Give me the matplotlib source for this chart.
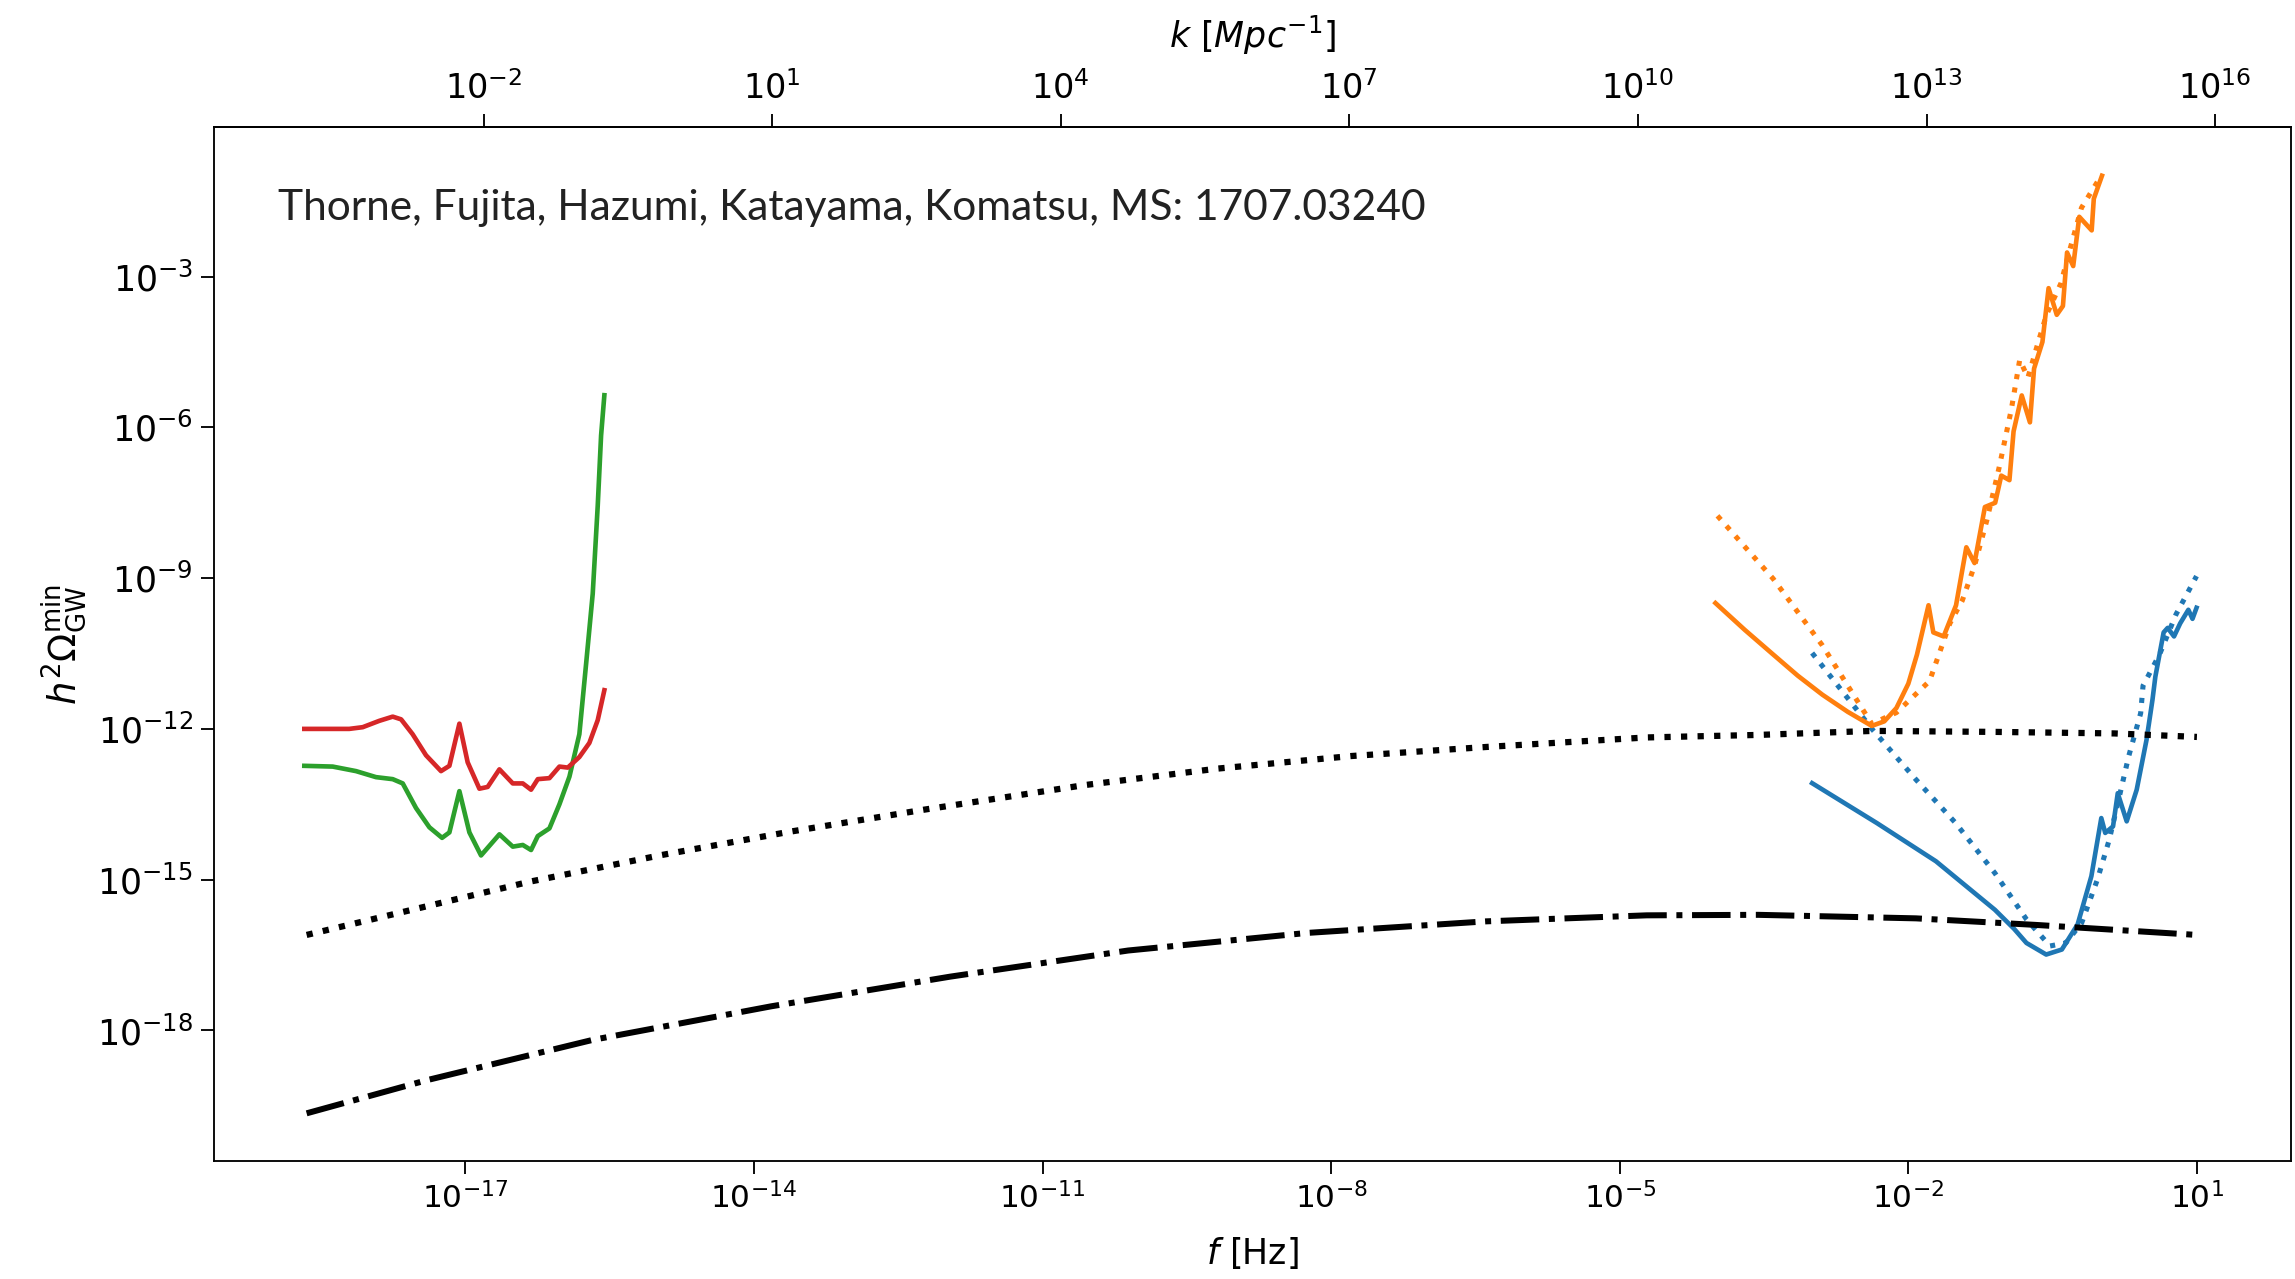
import matplotlib.pyplot as plt
import numpy as np
from matplotlib.ticker import NullLocator

# every value below is a log10
# x: log10(f / Hz), y: log10(h^2 Omega_GW^min)

red_lf = [-18.674, -18.207, -18.067, -17.895, -17.755, -17.668, -17.548, -17.409, -17.253, -17.166,
          -17.062, -16.976, -16.854, -16.768, -16.646, -16.507, -16.403, -16.317, -16.247, -16.126,
          -16.022, -15.935, -15.815, -15.711, -15.624, -15.555]
red_ly = [-12.00, -12.00, -11.966, -11.84, -11.756, -11.81, -12.106, -12.525, -12.84, -12.735,
          -11.896, -12.665, -13.19, -13.155, -12.805, -13.085, -13.085, -13.21, -13.0, -12.98,
          -12.75, -12.77, -12.56, -12.28, -11.826, -11.23]

green_lf = [-18.674, -18.379, -18.137, -17.929, -17.755, -17.651, -17.513, -17.374, -17.242, -17.166,
            -17.062, -16.958, -16.837, -16.646, -16.507, -16.403, -16.317, -16.247, -16.126, -16.022,
            -15.918, -15.815, -15.745, -15.676, -15.624, -15.589, -15.555]
green_ly = [-12.735, -12.75, -12.84, -12.96, -13.0, -13.085, -13.574, -13.958, -14.168, -14.06,
            -13.239, -14.06, -14.518, -14.098, -14.343, -14.31, -14.41, -14.133, -13.98, -13.50,
            -12.95, -12.106, -10.71, -9.31, -7.56, -6.16, -5.36]

orange_lf = [-4.005, -3.7, -3.406, -3.15, -2.893, -2.63, -2.38, -2.25, -2.124, -2.0, -1.91, -1.79,
             -1.74, -1.633, -1.504, -1.397, -1.312, -1.204, -1.097, -1.034, -0.949, -0.906, -0.821,
             -0.736, -0.693, -0.606, -0.542, -0.457, -0.393, -0.35, -0.286, -0.223, -0.094, -0.072,
             0.013]
orange_ly = [-9.496, -10.03, -10.518, -10.94, -11.32, -11.66, -11.94, -11.85, -11.585, -11.1, -10.52,
             -9.54, -10.08, -10.16, -9.54, -8.386, -8.70, -7.585, -7.50, -6.96, -7.05, -6.08, -5.365,
             -5.90, -4.83, -4.30, -3.23, -3.76, -3.585, -2.52, -2.79, -1.81, -2.08, -1.45, -0.993]

orange_dot_lf = [-3.984, -3.406, -2.893, -2.38, -2.124, -1.78, -1.568, -1.44, -1.31, -1.184,
                 -1.055, -0.928, -0.842, -0.757, -0.649, -0.564, -0.415, -0.329, -0.2, -0.03]
orange_dot_ly = [-7.76, -9.01, -10.34, -11.90, -11.675, -11.05, -9.90, -9.45, -8.74, -7.85,
                 -6.79, -5.63, -4.655, -5.01, -4.30, -3.76, -3.14, -2.52, -1.63, -1.10]

blue_lf = [-3.0, -2.327, -1.713, -1.10, -0.9, -0.772, -0.567, -0.404, -0.24, -0.097, 0.006,
           0.047, 0.128, 0.177, 0.27, 0.374, 0.476, 0.538, 0.568, 0.654, 0.696,
           0.762, 0.826, 0.911, 0.954, 0.996]
blue_ly = [-13.08, -13.874, -14.634, -15.60, -15.98, -16.26, -16.49, -16.39, -15.89, -14.93, -13.775,
           -14.07, -13.94, -13.28, -13.84, -13.21, -12.22, -11.42, -10.96, -10.08, -9.99,
           -10.16, -9.90, -9.63, -9.81, -9.59]

blue_dot_lf = [-3.0, -2.37, -1.92, -1.51, -1.10, -0.772, -0.527, -0.363, -0.198, -0.035,
               0.088, 0.17, 0.29, 0.415, 0.44, 0.611, 0.783, 0.996]
blue_dot_ly = [-10.49, -12.02, -13.01, -13.87, -14.87, -15.79, -16.32, -16.26, -15.86, -15.0,
               -14.21, -13.54, -12.55, -11.69, -11.14, -10.52, -9.72, -8.96]

black_dot_lf = [-18.65, -16.33, -14.96, -13.64, -12.24, -10.57, -9.18, -7.79, -6.39, -4.72,
                -3.56, -2.37, -1.09, 0.14, 1.0]
black_dot_ly = [-16.10, -15.04, -14.51, -14.05, -13.61, -13.12, -12.79, -12.54, -12.36, -12.17,
                -12.12, -12.04, -12.06, -12.09, -12.16]

black_dd_lf = [-18.65, -17.40, -15.68, -13.82, -11.96, -10.11, -8.25, -6.39, -4.72, -3.56,
               -1.92, -0.68, 1.0]
black_dd_ly = [-19.65, -18.99, -18.19, -17.52, -16.93, -16.41, -16.06, -15.83, -15.71, -15.70,
               -15.77, -15.90, -16.10]

f_ticks = [-17, -14, -11, -8, -5, -2, 1]
k_ticks = [-2, 1, 4, 7, 10, 13, 16]
y_ticks = [-18, -15, -12, -9, -6, -3]

DPI = 166.67
fig = plt.figure(figsize=(2295 / DPI, 1279 / DPI), dpi=DPI)
ax = fig.add_axes([0.0932, 0.0922, 0.9051, 0.8085])

def p(lf, ly, **kw):
    ax.plot(10.0 ** np.array(lf), 10.0 ** np.array(ly), **kw)

p(blue_lf, blue_ly, color='C0', lw=2.0)
p(blue_dot_lf, blue_dot_ly, color='C0', lw=2.2, ls=':')
p(orange_lf, orange_ly, color='C1', lw=2.0)
p(orange_dot_lf, orange_dot_ly, color='C1', lw=2.2, ls=':')
p(green_lf, green_ly, color='C2', lw=2.0)
p(red_lf, red_ly, color='C3', lw=2.0)
p(black_dot_lf, black_dot_ly, color='k', lw=2.7, ls=':')
p(black_dd_lf, black_dd_ly, color='k', lw=2.6, ls='-.')

ax.set_xscale('log')
ax.set_yscale('log')
ax.set_xlim(10 ** -19.614, 10 ** 1.979)
ax.set_ylim(10 ** -20.60, 10 ** -0.023)
ax.set_xticks(10.0 ** np.array(f_ticks))
ax.set_yticks(10.0 ** np.array(y_ticks))
ax.xaxis.set_minor_locator(NullLocator())
ax.yaxis.set_minor_locator(NullLocator())
ax.tick_params(axis='x', labelsize=13.5, length=5.5)
ax.tick_params(axis='y', labelsize=15, length=5.5)

ax.set_xlabel(r'$f$ [Hz]', fontsize=15, labelpad=9)
ax.set_ylabel(r'$h^2\Omega_{\rm GW}^{\rm min}$', fontsize=16, labelpad=4)

kfac = 2 * np.pi / 9.716e-15
sec = ax.secondary_xaxis('top', functions=(lambda f: f * kfac, lambda k: k / kfac))
sec.set_xticks(10.0 ** np.array(k_ticks))
sec.xaxis.set_minor_locator(NullLocator())
sec.tick_params(labelsize=14.5, length=5.5)
sec.set_xlabel(r'$k\ [Mpc^{-1}]$', fontsize=15, labelpad=10)

fig.text(0.121, 0.828, 'Thorne, Fujita, Hazumi, Katayama, Komatsu, MS: 1707.03240',
         fontsize=18.4, family='Lato', color='#222222')

fig.savefig('out.png', dpi=DPI)
